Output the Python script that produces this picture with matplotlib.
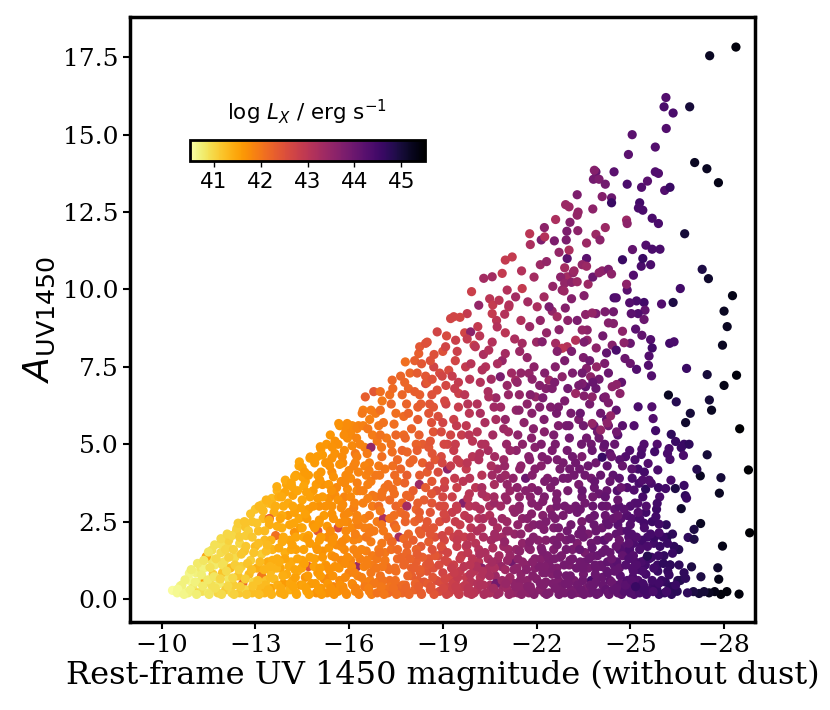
import numpy as np
import matplotlib
matplotlib.use("Agg")
import matplotlib.pyplot as plt
from matplotlib.ticker import FormatStrFormatter

# (rest-frame UV 1450 mag, A_UV1450, log Lx), by region
faint_end = [
    (-10.35, 0.28, 40.55), (-10.5, 0.2, 40.6), (-10.6, 0.42, 40.65), (-10.7, 0.25, 40.6), (-10.65, 0.45, 40.7),
    (-10.85, 0.2, 40.7), (-10.9, 0.6, 40.6), (-11.0, 0.35, 40.8), (-11.1, 0.85, 40.7), (-11.15, 0.2, 41.0),
    (-11.2, 0.55, 40.75), (-10.89, 0.83, 40.65), (-11.27, 0.99, 40.8),
    (-11.3, 0.25, 40.9), (-11.35, 1.0, 40.7), (-11.4, 0.6, 41.6), (-11.5, 0.2, 40.8), (-11.55, 1.3, 40.85),
    (-11.6, 0.45, 40.9), (-11.65, 0.8, 41.1), (-11.7, 1.1, 40.8), (-11.43, 1.37, 41.5), (-11.61, 1.58, 40.9),
    (-11.8, 0.2, 41.0), (-11.85, 0.5, 40.8), (-11.9, 1.5, 40.95), (-11.95, 0.85, 41.2), (-12.0, 1.2, 40.9),
    (-12.05, 0.3, 41.1), (-12.1, 1.75, 41.0), (-12.15, 0.65, 40.85), (-12.2, 1.0, 41.3), (-12.25, 0.2, 41.0),
    (-11.88, 1.78, 40.9), (-12.15, 1.9, 41.05),
    (-12.3, 0.45, 41.1), (-12.35, 1.35, 40.95), (-12.4, 2.2, 41.1), (-12.45, 0.75, 41.2), (-12.5, 1.8, 41.0),
    (-12.5, 0.2, 41.15), (-12.55, 1.05, 41.1), (-12.6, 0.5, 42.2), (-12.65, 1.55, 41.2), (-12.7, 0.3, 41.0),
    (-12.7, 2.05, 41.1), (-12.41, 2.28, 41.05), (-12.68, 2.33, 41.2),
    (-12.8, 0.8, 41.3), (-12.85, 1.25, 41.1), (-12.9, 0.2, 41.25), (-12.9, 2.5, 41.2), (-12.95, 0.55, 41.0),
    (-13.0, 1.7, 41.3), (-13.0, 2.9, 41.2), (-13.05, 1.0, 41.4), (-13.1, 2.2, 41.25), (-13.15, 0.35, 41.3),
    (-13.2, 1.45, 41.1), (-13.2, 0.75, 42.0), (-13.25, 2.6, 41.3), (-13.21, 3.04, 41.2),
]

faint_fill = [
    (-10.52, 0.32, 40.6), (-10.72, 0.15, 40.65), (-10.75, 0.62, 40.7), (-10.92, 0.3, 40.7), (-10.95, 0.95, 40.75),
    (-11.12, 0.15, 40.75), (-11.08, 0.55, 40.7), (-11.15, 1.15, 40.8), (-11.32, 0.42, 40.8), (-11.28, 0.78, 40.75),
    (-11.35, 1.25, 40.85), (-11.52, 0.15, 40.85), (-11.48, 0.62, 40.8), (-11.55, 1.02, 40.9), (-11.5, 1.52, 40.85),
    (-11.72, 0.35, 40.9), (-11.68, 0.72, 40.85), (-11.75, 1.3, 40.95), (-11.7, 1.75, 40.9), (-11.92, 0.15, 40.95),
    (-11.88, 0.65, 41.0), (-11.95, 1.1, 40.9), (-11.9, 1.95, 40.95), (-12.12, 0.42, 41.0), (-12.08, 0.9, 40.95),
    (-12.15, 1.35, 41.05), (-12.1, 2.1, 41.0), (-12.05, 1.6, 41.0), (-12.32, 0.15, 41.05), (-12.28, 0.68, 41.0),
    (-12.35, 1.1, 41.1), (-12.3, 1.6, 41.05), (-12.25, 2.05, 41.0), (-12.52, 0.4, 41.1), (-12.48, 0.95, 41.05),
    (-12.55, 1.45, 41.15), (-12.5, 2.0, 41.1), (-12.45, 2.45, 41.1), (-12.72, 0.15, 41.15), (-12.68, 0.65, 41.1),
    (-12.75, 1.15, 41.2), (-12.7, 1.7, 41.15), (-12.65, 2.5, 41.2), (-12.78, 2.2, 41.1), (-12.92, 0.42, 41.2),
    (-12.88, 0.95, 41.25), (-12.95, 1.5, 41.2), (-12.9, 2.0, 41.15), (-12.85, 2.75, 41.2),
]

mid_faint = [
    (-13.3, 0.2, 41.35), (-13.3, 1.9, 41.3), (-13.35, 0.6, 41.2), (-13.4, 1.2, 41.45), (-13.4, 3.1, 41.3),
    (-13.45, 2.4, 41.4), (-13.5, 0.9, 41.3), (-13.5, 0.35, 41.5), (-13.55, 1.6, 41.35), (-13.6, 2.8, 41.4),
    (-13.6, 0.65, 41.3), (-13.65, 2.05, 42.1), (-13.7, 1.3, 41.4), (-13.7, 3.5, 41.35), (-13.53, 3.25, 41.3),
    (-13.69, 3.63, 41.4),
    (-13.8, 0.2, 41.45), (-13.8, 1.0, 41.5), (-13.85, 2.3, 41.4), (-13.9, 0.5, 41.6), (-13.9, 3.0, 41.45),
    (-13.95, 1.5, 41.4), (-14.0, 3.7, 41.5), (-14.0, 0.8, 41.45), (-14.05, 2.7, 41.6), (-14.1, 0.3, 41.4),
    (-14.1, 1.9, 41.5), (-14.15, 1.2, 41.45), (-14.2, 3.35, 41.55), (-14.2, 0.6, 41.5), (-14.25, 2.15, 41.7),
    (-13.96, 3.84, 41.45), (-14.17, 3.63, 41.5),
    (-14.3, 0.2, 41.5), (-14.3, 1.6, 41.55), (-14.35, 0.9, 41.45), (-14.4, 2.6, 41.5), (-14.4, 4.3, 41.5),
    (-14.45, 0.45, 41.6), (-14.5, 3.2, 41.5), (-14.5, 1.25, 41.55), (-14.55, 2.0, 41.5), (-14.6, 0.7, 41.7),
    (-14.6, 3.8, 41.55), (-14.65, 0.25, 41.5), (-14.7, 2.9, 41.6), (-14.7, 1.05, 42.5), (-14.75, 1.8, 41.6),
    (-14.75, 4.55, 41.5), (-14.45, 2.3, 41.6), (-14.41, 4.43, 41.5), (-14.5, 3.95, 41.55),
    (-14.8, 0.5, 41.6), (-14.85, 2.4, 41.65), (-14.85, 3.5, 41.6), (-14.9, 1.3, 41.55), (-14.95, 0.2, 41.7),
    (-15.0, 4.0, 41.6), (-15.0, 0.85, 41.65), (-15.05, 1.9, 41.6), (-15.05, 3.0, 41.7), (-15.1, 4.85, 41.6),
    (-15.1, 0.35, 41.65), (-15.15, 1.55, 41.7), (-15.2, 2.7, 41.6), (-15.2, 0.65, 41.8), (-15.25, 4.4, 41.65),
    (-15.25, 1.1, 41.6), (-15.0, 2.2, 42.4), (-15.15, 3.7, 41.7), (-14.76, 4.59, 41.6), (-15.08, 4.92, 41.65),
    (-15.3, 0.2, 41.7), (-15.3, 2.0, 41.75), (-15.35, 3.25, 41.7), (-15.4, 0.75, 41.8), (-15.4, 5.3, 41.65),
    (-15.45, 1.4, 41.7), (-15.45, 4.1, 41.75), (-15.5, 2.6, 41.7), (-15.5, 0.4, 41.85), (-15.55, 1.05, 41.7),
    (-15.55, 4.7, 41.7), (-15.6, 1.75, 41.75), (-15.6, 3.6, 41.8), (-15.65, 0.25, 41.7), (-15.65, 2.3, 42.6),
    (-15.7, 0.6, 41.75), (-15.7, 5.6, 41.7), (-15.75, 2.95, 41.75), (-15.75, 1.25, 41.8), (-15.45, 3.0, 41.7),
    (-15.67, 5.67, 41.7),
    (-15.8, 0.4, 41.8), (-15.8, 4.4, 41.75), (-15.85, 1.6, 41.8), (-15.85, 3.3, 41.85), (-15.9, 0.2, 41.75),
    (-15.9, 2.2, 41.8), (-15.95, 5.2, 41.75), (-16.0, 0.85, 41.9), (-16.0, 2.8, 41.8), (-16.05, 3.9, 41.75),
    (-16.05, 1.25, 41.85), (-16.1, 0.5, 41.8), (-16.1, 5.6, 41.8), (-16.15, 1.9, 41.85), (-16.2, 4.7, 42.0),
    (-16.2, 0.25, 41.8), (-16.25, 3.5, 41.8), (-16.25, 1.05, 43.4), (-15.95, 2.5, 41.8), (-16.15, 2.95, 41.9),
    (-16.0, 4.15, 41.8), (-15.94, 5.67, 41.75), (-16.26, 5.51, 41.85),
]

mid_faint_fill = [
    (-13.12, 0.15, 41.25), (-13.08, 0.6, 41.2), (-13.15, 1.2, 41.3), (-13.1, 1.8, 41.25), (-13.05, 2.45, 41.2),
    (-13.12, 3.0, 41.3), (-13.32, 0.45, 41.3), (-13.28, 0.95, 41.35), (-13.35, 1.55, 41.25), (-13.3, 2.2, 41.3),
    (-13.25, 2.85, 41.3), (-13.35, 3.2, 41.35), (-13.52, 0.15, 41.35), (-13.48, 0.7, 41.3), (-13.55, 1.25, 41.4),
    (-13.5, 1.9, 41.35), (-13.45, 2.6, 42.3), (-13.55, 3.05, 41.35), (-13.72, 0.45, 41.4), (-13.68, 1.0, 41.35),
    (-13.75, 1.65, 41.45), (-13.7, 2.35, 41.4), (-13.65, 3.0, 41.4), (-13.75, 3.3, 41.4), (-13.92, 0.15, 41.45),
    (-13.88, 0.75, 41.4), (-13.95, 1.3, 41.5), (-13.9, 2.0, 41.45), (-13.85, 2.7, 41.45), (-13.95, 3.45, 41.5),
    (-14.12, 0.5, 41.48), (-14.08, 1.05, 41.45), (-14.15, 1.6, 41.5), (-14.1, 2.4, 41.5), (-14.05, 3.1, 41.45),
    (-14.15, 3.75, 41.5), (-14.32, 0.15, 41.5), (-14.28, 0.7, 41.55), (-14.35, 1.3, 41.5), (-14.3, 2.0, 41.5),
    (-14.25, 2.8, 41.55), (-14.35, 3.5, 41.5), (-14.3, 4.0, 41.55), (-14.52, 0.45, 41.52), (-14.48, 1.0, 41.5),
    (-14.55, 1.6, 41.55), (-14.5, 2.3, 41.5), (-14.45, 2.95, 41.55), (-14.55, 3.65, 41.5), (-14.5, 4.25, 41.55),
    (-14.72, 0.15, 41.55), (-14.68, 0.75, 41.6), (-14.75, 1.35, 41.55), (-14.7, 2.05, 41.55), (-14.65, 2.6, 41.6),
    (-14.75, 3.3, 41.55), (-14.7, 4.0, 41.6), (-14.92, 0.5, 41.6), (-14.88, 1.05, 41.55), (-14.95, 1.7, 41.6),
    (-14.9, 2.3, 41.6), (-14.85, 3.0, 41.65), (-14.95, 3.7, 41.6), (-14.9, 4.4, 41.6), (-15.12, 0.15, 41.62),
    (-15.08, 0.75, 41.6), (-15.15, 1.35, 41.65), (-15.1, 2.0, 41.6), (-15.05, 2.55, 41.65), (-15.15, 3.3, 41.6),
    (-15.1, 4.1, 41.65), (-15.15, 4.65, 41.6), (-15.32, 0.5, 41.65), (-15.28, 1.05, 41.7), (-15.35, 1.65, 41.65),
    (-15.3, 2.35, 41.65), (-15.25, 3.0, 41.7), (-15.35, 3.7, 41.65), (-15.3, 4.4, 41.7), (-15.28, 5.0, 41.65),
    (-15.52, 0.15, 41.7), (-15.48, 0.75, 41.7), (-15.55, 1.35, 41.75), (-15.5, 2.0, 41.7), (-15.45, 2.75, 41.7),
    (-15.55, 3.35, 41.75), (-15.5, 3.95, 41.7), (-15.45, 4.55, 41.7), (-15.55, 5.1, 41.7), (-15.72, 0.45, 41.72),
    (-15.68, 1.0, 41.7), (-15.75, 1.7, 41.75), (-15.7, 2.45, 41.72), (-15.65, 3.2, 41.7), (-15.75, 3.8, 41.75),
    (-15.7, 4.35, 41.7), (-15.65, 5.0, 41.72), (-15.92, 0.15, 41.75), (-15.88, 0.7, 41.8), (-15.95, 1.35, 41.75),
    (-15.9, 1.95, 41.75), (-15.85, 2.7, 41.8), (-15.95, 3.55, 41.75), (-15.9, 4.0, 41.8), (-15.85, 4.8, 41.75),
    (-15.9, 5.45, 41.75), (-16.12, 0.45, 41.8), (-16.08, 1.05, 41.8), (-16.15, 1.6, 41.85), (-16.1, 2.3, 41.8),
    (-16.05, 3.3, 41.8), (-16.15, 4.3, 41.85), (-16.1, 4.95, 41.8), (-16.05, 5.35, 41.8), (-16.32, 0.15, 41.85),
    (-16.28, 0.75, 41.85), (-16.35, 1.3, 41.9), (-16.3, 1.95, 41.85), (-16.25, 2.7, 41.85), (-16.35, 3.5, 41.9),
    (-16.3, 4.1, 41.85), (-16.25, 4.6, 41.9), (-16.3, 5.6, 41.85), (-16.52, 0.55, 41.88), (-16.48, 1.05, 41.85),
    (-16.55, 1.55, 41.9), (-16.5, 2.6, 41.88), (-16.45, 3.5, 41.9), (-16.55, 4.0, 41.88), (-16.5, 4.9, 41.9),
    (-16.45, 5.6, 41.9), (-16.72, 0.15, 41.92), (-16.68, 0.6, 41.9), (-16.75, 1.1, 41.95), (-16.7, 1.85, 41.92),
    (-16.65, 2.3, 41.9), (-16.75, 3.0, 41.95), (-16.7, 3.8, 41.92), (-16.65, 4.4, 41.9), (-16.75, 5.3, 41.95),
    (-16.7, 6.1, 41.95), (-16.92, 0.55, 41.95), (-16.88, 1.0, 42.0), (-16.95, 1.6, 41.95), (-16.9, 2.5, 41.95),
    (-16.85, 3.3, 42.0), (-16.95, 4.3, 41.95), (-16.9, 5.1, 42.0), (-16.85, 6.0, 41.95),
]

mid = [
    (-16.3, 0.2, 41.85), (-16.3, 2.4, 41.9), (-16.35, 5.0, 41.85), (-16.4, 0.7, 41.9), (-16.4, 1.6, 41.85),
    (-16.45, 3.1, 41.9), (-16.45, 6.1, 41.9), (-16.5, 0.4, 41.95), (-16.5, 4.3, 41.85), (-16.55, 1.1, 41.9),
    (-16.55, 2.0, 42.0), (-16.6, 3.7, 41.9), (-16.6, 5.5, 42.0), (-16.65, 0.25, 41.9), (-16.65, 2.7, 41.95),
    (-16.7, 0.85, 42.0), (-16.7, 4.9, 43.5), (-16.75, 1.4, 41.95), (-16.75, 3.35, 42.0), (-16.5, 2.3, 41.9),
    (-16.42, 6.0, 42.0), (-16.52, 6.53, 42.3), (-16.79, 6.7, 42.4),
    (-16.8, 0.5, 42.0), (-16.8, 2.2, 41.95), (-16.85, 4.0, 42.0), (-16.9, 0.2, 42.05), (-16.9, 1.3, 42.0),
    (-16.95, 3.0, 42.1), (-16.95, 5.6, 42.0), (-17.0, 0.75, 42.05), (-17.0, 6.7, 42.1), (-17.05, 1.8, 42.0),
    (-17.05, 4.6, 42.1), (-17.1, 0.35, 42.0), (-17.1, 2.6, 43.2), (-17.15, 3.6, 42.05), (-17.2, 1.05, 42.1),
    (-17.2, 5.2, 42.0), (-17.25, 0.2, 42.1), (-17.25, 2.0, 42.05), (-17.0, 6.1, 42.1), (-17.15, 1.5, 42.0),
    (-17.3, 0.6, 42.1), (-17.3, 3.2, 42.15), (-17.35, 1.6, 42.1), (-17.35, 6.3, 42.2), (-17.4, 0.25, 42.15),
    (-17.4, 4.3, 42.1), (-17.45, 2.4, 42.2), (-17.5, 0.9, 42.1), (-17.5, 5.3, 42.2), (-17.55, 1.3, 42.15),
    (-17.55, 3.8, 42.1), (-17.6, 0.4, 42.2), (-17.6, 2.0, 43.3), (-17.65, 7.2, 42.2), (-17.65, 2.8, 42.15),
    (-17.7, 0.2, 42.2), (-17.7, 4.8, 42.25), (-17.75, 1.1, 42.2), (-17.75, 5.9, 42.15), (-17.5, 3.0, 42.2),
    (-17.38, 7.07, 42.2),
    (-17.8, 0.45, 42.2), (-17.8, 2.5, 42.25), (-17.85, 1.5, 42.2), (-17.85, 4.0, 42.3), (-17.9, 0.2, 42.25),
    (-17.9, 6.8, 42.2), (-17.95, 3.3, 42.25), (-18.0, 0.75, 42.3), (-18.0, 5.5, 42.25), (-18.05, 1.9, 42.3),
    (-18.05, 4.5, 42.2), (-18.1, 0.3, 42.25), (-18.1, 7.7, 42.3), (-18.15, 1.2, 42.3), (-18.15, 2.9, 42.25),
    (-18.2, 6.2, 42.3), (-18.2, 0.6, 42.35), (-18.25, 2.2, 42.3), (-18.25, 3.7, 43.4), (-18.0, 1.0, 42.25),
    (-17.8, 7.66, 42.1), (-18.23, 7.93, 42.3),
    (-18.3, 0.2, 42.35), (-18.3, 1.7, 42.4), (-18.35, 5.0, 42.35), (-18.4, 0.55, 42.4), (-18.4, 3.2, 42.35),
    (-18.45, 7.2, 42.4), (-18.45, 2.3, 42.4), (-18.5, 0.9, 42.45), (-18.5, 4.1, 42.35), (-18.55, 1.3, 42.4),
    (-18.55, 6.0, 42.45), (-18.6, 0.3, 42.4), (-18.6, 2.8, 42.45), (-18.65, 3.8, 42.4), (-18.7, 1.0, 42.5),
    (-18.7, 5.4, 42.45), (-18.75, 0.2, 42.45), (-18.75, 2.0, 42.5), (-18.5, 8.3, 42.5), (-18.65, 6.6, 42.5),
    (-18.26, 8.15, 42.4), (-18.45, 8.26, 42.5), (-18.82, 8.63, 42.7), (-18.45, 6.96, 42.6), (-18.71, 7.5, 42.7),
    (-18.8, 0.6, 42.55), (-18.8, 3.5, 42.6), (-18.85, 1.4, 42.55), (-18.85, 5.9, 42.55), (-18.9, 0.25, 42.6),
    (-18.9, 2.5, 42.55), (-18.95, 4.6, 42.6), (-19.0, 0.85, 42.7), (-19.0, 8.0, 42.5), (-19.05, 1.9, 42.65),
    (-19.05, 3.0, 42.6), (-19.1, 0.4, 42.7), (-19.1, 6.9, 42.65), (-19.15, 1.2, 42.65), (-19.15, 4.2, 43.6),
    (-19.2, 0.2, 42.7), (-19.2, 2.2, 42.65), (-19.25, 5.3, 42.7), (-19.25, 0.7, 42.7), (-19.0, 1.6, 42.65),
    (-19.25, 9.06, 42.7), (-19.35, 9.12, 42.7), (-19.09, 8.15, 42.7), (-19.19, 7.39, 42.6), (-18.82, 6.75, 42.5),
    (-19.3, 0.3, 42.8), (-19.3, 2.8, 42.85), (-19.35, 1.1, 42.8), (-19.35, 4.8, 42.85), (-19.4, 0.55, 42.9),
    (-19.4, 7.7, 42.7), (-19.45, 1.7, 42.85), (-19.45, 3.6, 42.8), (-19.5, 0.2, 42.85), (-19.5, 6.2, 42.85),
    (-19.55, 2.4, 42.85), (-19.55, 0.9, 42.9), (-19.6, 5.3, 42.85), (-19.6, 1.4, 42.9), (-19.65, 3.1, 43.7),
    (-19.65, 0.4, 42.9), (-19.7, 8.6, 42.7), (-19.7, 2.0, 42.85), (-19.75, 0.7, 42.9), (-19.75, 4.2, 42.9),
    (-19.41, 8.36, 42.8), (-19.51, 6.64, 42.8), (-19.73, 7.5, 42.9), (-19.78, 9.22, 42.9),
    (-19.8, 0.2, 43.0), (-19.8, 1.5, 42.95), (-19.85, 3.0, 43.05), (-19.85, 6.0, 43.0), (-19.9, 0.55, 43.05),
    (-19.9, 2.3, 43.0), (-19.95, 4.6, 43.05), (-20.0, 0.9, 43.05), (-20.0, 8.2, 42.8), (-20.05, 1.8, 43.05),
    (-20.05, 3.6, 43.0), (-20.1, 0.3, 43.1), (-20.1, 5.4, 43.05), (-20.15, 1.2, 43.05), (-20.15, 2.6, 43.1),
    (-20.2, 0.7, 43.05), (-20.2, 7.0, 43.1), (-20.25, 4.0, 43.05), (-20.25, 1.0, 43.7), (-20.0, 0.2, 43.05),
    (-19.92, 9.93, 42.8), (-19.89, 8.63, 43.6), (-20.15, 9.49, 43.5), (-20.04, 8.15, 43.0),
]

mid_fill = [
    (-17.12, 0.15, 42.0), (-17.08, 0.6, 42.05), (-17.15, 1.25, 42.0), (-17.1, 2.2, 42.0), (-17.05, 3.3, 42.05),
    (-17.15, 4.2, 42.0), (-17.1, 5.7, 42.05), (-17.32, 0.4, 42.05), (-17.28, 0.95, 42.1), (-17.35, 1.85, 42.05),
    (-17.3, 2.6, 42.05), (-17.25, 3.7, 42.1), (-17.35, 5.0, 42.05), (-17.3, 6.6, 42.1), (-17.52, 0.15, 42.1),
    (-17.48, 0.6, 42.1), (-17.55, 1.6, 42.15), (-17.5, 2.3, 42.1), (-17.45, 3.4, 42.1), (-17.55, 4.5, 42.15),
    (-17.5, 6.0, 42.1), (-17.72, 0.45, 42.15), (-17.68, 1.35, 42.2), (-17.75, 1.95, 42.15), (-17.7, 3.1, 42.15),
    (-17.65, 4.2, 42.2), (-17.75, 5.3, 42.15), (-17.7, 6.6, 42.2), (-17.92, 0.15, 42.2), (-17.88, 0.75, 42.2),
    (-17.95, 1.3, 42.25), (-17.9, 2.1, 42.2), (-17.85, 3.0, 43.3), (-17.95, 4.4, 42.2), (-17.9, 6.0, 42.25),
    (-17.95, 7.3, 42.2), (-18.12, 0.5, 42.25), (-18.08, 1.0, 42.3), (-18.15, 1.6, 42.25), (-18.1, 2.5, 42.25),
    (-18.05, 3.5, 42.3), (-18.15, 5.0, 42.25), (-18.1, 6.7, 42.3), (-18.32, 0.15, 42.3), (-18.28, 0.85, 42.35),
    (-18.35, 1.35, 42.3), (-18.3, 2.1, 42.3), (-18.25, 2.8, 42.35), (-18.35, 4.4, 42.3), (-18.3, 6.3, 42.35),
    (-18.32, 7.6, 42.4), (-18.52, 0.5, 42.35), (-18.48, 1.1, 42.4), (-18.55, 1.85, 42.35), (-18.5, 2.5, 42.4),
    (-18.45, 3.6, 42.35), (-18.55, 4.9, 42.4), (-18.5, 7.0, 42.4), (-18.72, 0.15, 42.42), (-18.68, 0.7, 42.45),
    (-18.75, 1.4, 42.4), (-18.7, 2.3, 42.42), (-18.65, 3.1, 42.45), (-18.75, 4.5, 42.4), (-18.7, 6.2, 42.45),
    (-18.72, 7.9, 42.5), (-18.92, 0.55, 42.58), (-18.88, 1.1, 42.6), (-18.95, 1.7, 42.55), (-18.9, 3.0, 42.6),
    (-18.85, 4.1, 42.58), (-18.95, 5.4, 42.6), (-18.9, 7.3, 42.6), (-19.12, 0.15, 42.7), (-19.08, 0.65, 42.65),
    (-19.15, 1.5, 42.7), (-19.1, 2.6, 42.7), (-19.05, 3.6, 42.75), (-19.15, 5.0, 42.7), (-19.1, 6.3, 42.75),
    (-19.12, 8.5, 42.6), (-19.32, 0.5, 42.8), (-19.28, 1.0, 42.85), (-19.35, 2.0, 42.8), (-19.3, 3.3, 42.8),
    (-19.25, 4.3, 42.85), (-19.35, 5.8, 42.8), (-19.3, 7.2, 42.85), (-19.52, 0.15, 42.85), (-19.48, 0.7, 42.9),
    (-19.55, 1.3, 42.85), (-19.5, 2.1, 42.85), (-19.45, 2.9, 42.9), (-19.55, 4.4, 42.85), (-19.5, 7.0, 42.9),
    (-19.55, 9.1, 42.7), (-19.72, 0.45, 42.95), (-19.68, 1.05, 43.0), (-19.75, 1.7, 42.95), (-19.7, 2.7, 42.95),
    (-19.65, 3.8, 43.0), (-19.75, 5.6, 42.95), (-19.7, 6.6, 43.0), (-19.92, 0.15, 43.0), (-19.88, 0.8, 43.05),
    (-19.95, 1.3, 43.0), (-19.9, 2.0, 43.0), (-19.85, 3.4, 43.05), (-19.95, 5.1, 43.0), (-19.9, 7.6, 43.05),
    (-20.12, 0.5, 43.1), (-20.08, 1.05, 43.15), (-20.15, 1.6, 43.1), (-20.1, 2.2, 43.15), (-20.05, 3.0, 43.1),
    (-20.15, 4.5, 43.15), (-20.1, 6.3, 43.1), (-20.12, 8.8, 42.9), (-20.32, 0.15, 43.2), (-20.28, 0.8, 43.15),
    (-20.35, 1.5, 43.2), (-20.3, 2.6, 43.2), (-20.25, 3.6, 43.25), (-20.35, 5.7, 43.2), (-20.3, 7.9, 43.2),
    (-20.52, 0.45, 43.25), (-20.48, 1.0, 43.25), (-20.55, 1.9, 43.3), (-20.5, 3.0, 43.25), (-20.45, 4.8, 43.25),
    (-20.55, 7.1, 43.3), (-20.5, 9.7, 43.0), (-20.72, 0.15, 43.35), (-20.68, 0.75, 43.4), (-20.75, 1.25, 43.35),
    (-20.7, 2.0, 43.35), (-20.65, 3.1, 43.4), (-20.75, 4.2, 43.35), (-20.7, 6.5, 43.4), (-20.72, 9.0, 43.0),
    (-20.92, 0.4, 43.4), (-20.88, 1.05, 43.45), (-20.95, 1.7, 43.4), (-20.9, 2.6, 43.4), (-20.85, 3.9, 43.45),
    (-20.95, 5.5, 43.4), (-20.9, 7.7, 43.45),
]

mid_bright = [
    (-20.3, 0.45, 43.15), (-20.3, 2.0, 43.2), (-20.35, 5.0, 43.15), (-20.4, 0.2, 43.2), (-20.4, 3.3, 43.15),
    (-20.45, 1.3, 43.2), (-20.45, 6.7, 43.2), (-20.5, 0.75, 43.25), (-20.5, 2.7, 43.15), (-20.55, 4.3, 43.2),
    (-20.55, 0.3, 43.25), (-20.6, 1.65, 43.2), (-20.6, 9.5, 42.9), (-20.65, 3.7, 43.25), (-20.65, 1.0, 43.2),
    (-20.7, 5.8, 43.25), (-20.7, 0.5, 43.9), (-20.75, 2.3, 43.25), (-20.75, 7.6, 43.2), (-20.5, 0.2, 43.2),
    (-20.31, 10.36, 43.3), (-20.58, 10.41, 43.3), (-20.58, 9.22, 42.9), (-20.74, 8.79, 43.1), (-20.47, 8.04, 43.1),
    (-20.37, 7.5, 43.1), (-20.47, 6.53, 43.2),
    (-20.8, 0.2, 43.35), (-20.8, 1.4, 43.3), (-20.85, 3.0, 43.35), (-20.85, 6.2, 43.35), (-20.9, 0.6, 43.4),
    (-20.9, 2.0, 43.35), (-20.95, 4.5, 43.4), (-21.0, 0.95, 43.35), (-21.0, 8.6, 43.0), (-21.05, 2.5, 43.4),
    (-21.05, 0.35, 43.35), (-21.1, 1.6, 43.4), (-21.1, 5.4, 43.35), (-21.15, 3.5, 43.45), (-21.15, 0.7, 43.4),
    (-21.2, 1.2, 43.9), (-21.2, 7.3, 43.35), (-21.25, 0.2, 43.4), (-21.25, 2.9, 43.45), (-21.0, 4.0, 43.4),
    (-20.9, 10.52, 42.9), (-21.22, 11.05, 42.9), (-21.0, 10.95, 42.9), (-21.11, 9.44, 43.0), (-21.06, 9.98, 43.1),
    (-20.8, 9.65, 43.0), (-21.0, 7.93, 43.3), (-20.84, 7.18, 43.8),
    (-21.3, 0.5, 43.55), (-21.3, 2.1, 43.5), (-21.35, 4.8, 43.55), (-21.4, 0.2, 43.5), (-21.4, 1.3, 43.6),
    (-21.45, 3.3, 43.55), (-21.45, 6.6, 43.5), (-21.5, 0.8, 43.6), (-21.5, 9.0, 43.15), (-21.55, 1.8, 43.55),
    (-21.55, 2.6, 43.6), (-21.6, 0.35, 43.55), (-21.6, 5.7, 43.6), (-21.65, 1.1, 43.6), (-21.65, 3.9, 44.0),
    (-21.7, 0.6, 43.6), (-21.7, 7.8, 43.5), (-21.75, 2.3, 43.6), (-21.75, 0.2, 43.6), (-21.5, 4.3, 43.55),
    (-21.33, 9.76, 43.3), (-21.54, 10.03, 42.9), (-21.54, 8.26, 43.3), (-21.33, 7.07, 43.3), (-21.76, 7.29, 43.5),
    (-21.78, 11.8, 43.0), (-21.8, 11.45, 43.2), (-21.97, 6.53, 43.5),
    (-21.8, 0.4, 43.65), (-21.8, 1.6, 43.6), (-21.85, 3.6, 43.65), (-21.85, 6.0, 43.65), (-21.9, 0.2, 43.65),
    (-21.9, 2.4, 43.7), (-21.95, 1.0, 43.65), (-21.95, 4.9, 43.65), (-22.0, 0.65, 43.7), (-22.0, 8.3, 43.4),
    (-22.05, 1.9, 43.65), (-22.05, 3.0, 43.7), (-22.1, 0.3, 43.65), (-22.1, 6.9, 43.7), (-22.15, 1.3, 43.7),
    (-22.15, 4.3, 43.65), (-22.2, 0.85, 43.75), (-22.2, 2.7, 43.7), (-22.25, 0.2, 43.7), (-22.25, 5.4, 43.65),
    (-22.02, 9.44, 43.2), (-22.24, 9.76, 43.3), (-22.18, 8.31, 43.7), (-22.25, 12.0, 43.6), (-22.15, 11.6, 43.8),
    (-22.26, 11.7, 43.1),
    (-22.3, 0.55, 43.75), (-22.3, 1.9, 43.7), (-22.35, 3.9, 43.75), (-22.4, 0.2, 43.75), (-22.4, 1.2, 43.8),
    (-22.45, 2.9, 43.7), (-22.45, 6.2, 43.75), (-22.5, 0.8, 43.75), (-22.5, 4.8, 43.8), (-22.55, 1.6, 43.75),
    (-22.55, 2.3, 43.8), (-22.6, 0.35, 43.75), (-22.6, 7.5, 43.7), (-22.65, 1.0, 43.75), (-22.65, 3.4, 43.8),
    (-22.7, 0.6, 43.8), (-22.7, 5.6, 43.75), (-22.75, 2.0, 43.8), (-22.75, 0.2, 43.8), (-22.5, 9.3, 43.5),
    (-22.4, 9.44, 43.8), (-22.66, 9.12, 43.3), (-22.82, 9.98, 43.5), (-22.61, 8.26, 43.3), (-22.4, 7.07, 43.4),
    (-22.82, 7.18, 43.6), (-22.61, 12.26, 43.2), (-22.57, 11.57, 43.8),
    (-22.8, 0.4, 43.85), (-22.8, 1.4, 43.8), (-22.85, 2.7, 43.85), (-22.85, 4.4, 43.85), (-22.9, 0.2, 43.85),
    (-22.9, 6.4, 43.8), (-22.95, 1.9, 43.85), (-22.95, 0.75, 43.9), (-23.0, 3.5, 43.85), (-23.0, 9.0, 43.6),
    (-23.05, 1.1, 43.85), (-23.05, 5.2, 43.9), (-23.1, 0.3, 43.85), (-23.1, 2.4, 43.9), (-23.15, 1.6, 43.85),
    (-23.15, 7.3, 43.8), (-23.2, 0.6, 43.85), (-23.2, 4.0, 43.9), (-23.25, 0.2, 43.85), (-23.25, 3.0, 43.9),
    (-22.98, 10.41, 43.3), (-22.93, 12.74, 43.4), (-23.04, 12.67, 43.4), (-22.97, 11.88, 43.8), (-22.95, 11.6, 43.8),
    (-22.98, 11.0, 44.2), (-22.9, 10.7, 43.3), (-22.77, 10.4, 43.6), (-22.9, 10.2, 43.5), (-22.88, 9.95, 43.4),
    (-22.98, 8.15, 43.1), (-22.82, 8.1, 43.0), (-23.25, 8.36, 43.1), (-23.25, 6.64, 43.4),
    (-23.3, 0.5, 43.85), (-23.3, 1.8, 43.8), (-23.35, 3.7, 43.85), (-23.35, 5.8, 43.8), (-23.4, 0.2, 43.85),
    (-23.4, 1.2, 43.9), (-23.45, 2.5, 43.85), (-23.45, 4.6, 43.8), (-23.5, 0.8, 43.9), (-23.5, 7.8, 43.8),
    (-23.55, 1.5, 43.85), (-23.55, 3.1, 43.9), (-23.6, 0.35, 43.85), (-23.6, 5.2, 43.9), (-23.65, 2.1, 43.85),
    (-23.65, 1.0, 43.9), (-23.7, 0.2, 43.9), (-23.7, 6.3, 43.85), (-23.75, 3.9, 43.9), (-23.75, 0.6, 44.4),
    (-23.3, 13.06, 43.8), (-23.33, 12.5, 43.5), (-23.3, 12.4, 43.5), (-23.07, 12.17, 43.7), (-23.04, 11.27, 43.2),
    (-23.6, 11.5, 43.4), (-23.6, 11.0, 44.2), (-23.46, 10.8, 43.5), (-23.6, 10.75, 43.4), (-23.17, 10.54, 43.5),
    (-23.2, 10.6, 43.4), (-23.65, 10.17, 43.4), (-23.12, 10.23, 43.6), (-23.3, 10.25, 43.4), (-23.57, 9.19, 43.6),
    (-23.62, 8.69, 43.6), (-23.46, 8.69, 43.5), (-23.62, 8.36, 43.5), (-23.6, 7.45, 43.7), (-23.73, 7.18, 43.6),
    (-23.57, 6.86, 44.1), (-23.52, 6.56, 43.7), (-23.46, 6.96, 43.8),
    (-23.8, 0.25, 44.0), (-23.8, 1.4, 43.95), (-23.85, 2.7, 44.0), (-23.9, 0.55, 44.0), (-23.9, 4.4, 43.95),
    (-23.95, 1.9, 44.0), (-24.0, 0.2, 44.05), (-24.0, 3.4, 44.0), (-24.05, 1.1, 44.0), (-24.05, 6.0, 43.95),
    (-24.1, 0.7, 44.05), (-24.1, 2.3, 44.0), (-24.15, 4.9, 44.0), (-24.2, 0.35, 44.0), (-24.2, 1.6, 44.05),
    (-24.25, 3.0, 44.0), (-24.25, 0.9, 44.05), (-24.0, 7.1, 43.9),
]

bright_fill = [
    (-21.12, 0.15, 43.45), (-21.08, 0.6, 43.4), (-21.15, 1.4, 43.45), (-21.1, 2.2, 43.45), (-21.05, 3.2, 43.5),
    (-21.15, 4.8, 43.45), (-21.1, 6.6, 43.45), (-21.12, 9.5, 43.1), (-21.32, 0.4, 43.55), (-21.28, 0.95, 43.55),
    (-21.35, 1.6, 43.5), (-21.3, 2.8, 43.55), (-21.25, 3.9, 43.55), (-21.35, 6.1, 43.5), (-21.3, 8.4, 43.2),
    (-21.52, 0.15, 43.6), (-21.48, 0.6, 43.6), (-21.55, 1.2, 43.6), (-21.5, 2.1, 43.6), (-21.45, 3.0, 43.6),
    (-21.55, 5.0, 43.6), (-21.5, 7.3, 43.5), (-21.52, 10.6, 43.1), (-21.72, 0.4, 43.65), (-21.68, 0.95, 43.65),
    (-21.75, 1.65, 43.65), (-21.7, 2.6, 43.65), (-21.65, 3.5, 43.65), (-21.75, 4.6, 43.65), (-21.7, 6.3, 43.6),
    (-21.72, 9.6, 43.3), (-21.92, 0.15, 43.7), (-21.88, 0.75, 43.7), (-21.95, 1.3, 43.7), (-21.9, 2.0, 43.7),
    (-21.85, 3.1, 43.7), (-21.95, 4.2, 43.7), (-21.9, 5.5, 43.65), (-21.92, 7.5, 43.6), (-21.92, 10.4, 43.3),
    (-22.12, 0.5, 43.75), (-22.08, 1.05, 43.75), (-22.15, 1.65, 43.75), (-22.1, 2.4, 43.75), (-22.05, 3.5, 43.75),
    (-22.15, 5.0, 43.75), (-22.1, 6.2, 43.7), (-22.12, 9.0, 43.5), (-22.12, 10.8, 43.4), (-22.32, 0.15, 43.78),
    (-22.28, 0.85, 43.78), (-22.35, 1.4, 43.78), (-22.3, 2.5, 43.78), (-22.25, 3.3, 43.78), (-22.35, 4.5, 43.78),
    (-22.3, 6.8, 43.7), (-22.32, 8.6, 43.5), (-22.32, 10.9, 43.5), (-22.52, 0.5, 43.8), (-22.48, 1.0, 43.8),
    (-22.55, 1.9, 43.8), (-22.5, 2.7, 43.8), (-22.45, 3.6, 43.8), (-22.55, 5.3, 43.8), (-22.5, 6.8, 43.75),
    (-22.52, 10.1, 43.5), (-22.72, 0.15, 43.85), (-22.68, 0.8, 43.85), (-22.75, 1.35, 43.85), (-22.7, 2.3, 43.85),
    (-22.65, 3.0, 43.85), (-22.75, 4.2, 43.85), (-22.7, 6.2, 43.8), (-22.72, 8.7, 43.6), (-22.72, 11.2, 43.5),
    (-22.92, 0.5, 43.88), (-22.88, 1.1, 43.88), (-22.95, 1.6, 43.88), (-22.9, 3.0, 43.88), (-22.85, 3.9, 43.88),
    (-22.95, 5.6, 43.85), (-22.9, 7.7, 43.8), (-22.92, 9.4, 43.7), (-23.12, 0.15, 43.9), (-23.08, 0.75, 43.9),
    (-23.15, 1.3, 43.9), (-23.1, 1.95, 43.9), (-23.05, 2.9, 43.9), (-23.15, 4.6, 43.9), (-23.1, 6.0, 43.85),
    (-23.12, 8.0, 43.8), (-23.12, 9.7, 43.7), (-23.32, 0.45, 43.92), (-23.28, 1.0, 43.92), (-23.35, 2.1, 43.92),
    (-23.3, 2.8, 43.92), (-23.25, 4.4, 43.92), (-23.35, 6.9, 43.85), (-23.3, 9.0, 43.8), (-23.32, 11.9, 43.6),
    (-23.52, 0.15, 43.95), (-23.48, 0.6, 43.95), (-23.55, 1.2, 43.95), (-23.5, 2.0, 43.95), (-23.45, 3.3, 43.95),
    (-23.55, 4.0, 43.95), (-23.5, 5.6, 43.9), (-23.52, 8.3, 43.8), (-23.52, 9.8, 43.7), (-23.72, 0.45, 43.98),
    (-23.68, 1.3, 43.98), (-23.75, 1.8, 43.98), (-23.7, 2.6, 43.98), (-23.65, 4.3, 43.98), (-23.75, 5.0, 43.95),
    (-23.7, 7.7, 43.9), (-23.92, 0.15, 44.0), (-23.88, 0.8, 44.0), (-23.95, 1.4, 44.0), (-23.9, 2.2, 44.0),
    (-23.85, 3.6, 44.0), (-23.95, 5.4, 43.95), (-23.9, 6.8, 44.0), (-24.12, 0.45, 44.05), (-24.08, 1.05, 44.05),
    (-24.15, 1.9, 44.05), (-24.1, 3.0, 44.05), (-24.05, 4.0, 44.05), (-24.15, 6.5, 44.0), (-24.12, 8.5, 43.9),
    (-24.32, 0.15, 44.05), (-24.28, 0.85, 44.1), (-24.35, 1.5, 44.05), (-24.3, 2.4, 44.1), (-24.25, 3.5, 44.05),
    (-24.35, 4.7, 44.1), (-24.3, 7.3, 44.0), (-24.52, 0.45, 44.12), (-24.48, 1.1, 44.15), (-24.55, 2.1, 44.1),
    (-24.5, 2.9, 44.12), (-24.45, 4.0, 44.15), (-24.55, 6.1, 44.1), (-24.72, 0.15, 44.18), (-24.68, 0.75, 44.2),
    (-24.75, 1.7, 44.18), (-24.7, 2.6, 44.2), (-24.65, 3.9, 44.18), (-24.75, 5.6, 44.2), (-24.72, 7.0, 44.1),
    (-24.92, 0.45, 44.25), (-24.88, 1.5, 44.28), (-24.95, 2.0, 44.25), (-24.9, 2.7, 44.25), (-24.85, 4.6, 44.3),
    (-25.12, 0.15, 44.32), (-25.08, 0.7, 44.35), (-25.15, 1.2, 44.32), (-25.1, 1.8, 44.35), (-25.05, 2.6, 44.3),
    (-25.15, 4.5, 44.35), (-25.12, 5.6, 44.3), (-25.32, 0.45, 44.4), (-25.28, 0.95, 44.42), (-25.35, 1.7, 44.4),
    (-25.3, 2.6, 44.4), (-25.25, 4.2, 44.45), (-25.52, 0.15, 44.45), (-25.48, 1.1, 44.5), (-25.55, 2.0, 44.45),
    (-25.5, 2.8, 44.5), (-25.45, 4.1, 44.45), (-25.72, 0.45, 44.52), (-25.68, 1.35, 44.55), (-25.75, 1.8, 44.5),
    (-25.7, 2.5, 44.55), (-25.92, 0.15, 44.58), (-25.88, 0.9, 44.6), (-25.95, 1.7, 44.6), (-25.9, 3.6, 44.55),
    (-26.12, 0.55, 44.65), (-26.08, 1.4, 44.65), (-26.15, 2.4, 44.7), (-26.32, 0.15, 44.7), (-26.28, 1.1, 44.72),
    (-26.35, 2.1, 44.7), (-26.52, 0.6, 44.78), (-26.55, 1.6, 44.8),
]

extra_fill = [
    (-13.42, 0.3, 41.35), (-13.47, 1.05, 41.35), (-13.38, 1.75, 41.3), (-13.44, 2.55, 41.4),
    (-13.82, 0.35, 41.45), (-13.77, 1.2, 41.4), (-13.86, 1.85, 41.45), (-13.8, 2.6, 41.5), (-13.84, 3.3, 41.45),
    (-14.22, 0.4, 41.5), (-14.27, 0.95, 41.5), (-14.18, 1.75, 41.55), (-14.24, 2.45, 41.5), (-14.2, 3.0, 41.5),
    (-14.26, 3.95, 41.5),
    (-14.62, 0.35, 41.55), (-14.57, 1.15, 41.55), (-14.66, 1.95, 41.6), (-14.6, 2.75, 41.55), (-14.64, 3.45, 41.55),
    (-14.58, 4.1, 41.6),
    (-15.02, 0.3, 41.6), (-15.07, 1.0, 41.6), (-14.98, 1.6, 41.65), (-15.04, 2.45, 41.6), (-15.0, 3.25, 41.6),
    (-15.06, 3.85, 41.65), (-14.98, 4.6, 41.6),
    (-15.42, 0.35, 41.7), (-15.37, 0.95, 41.7), (-15.46, 1.85, 41.7), (-15.4, 2.2, 41.75), (-15.44, 3.5, 41.7),
    (-15.38, 4.3, 41.7), (-15.46, 4.9, 41.7),
    (-15.82, 0.3, 41.75), (-15.87, 1.15, 41.75), (-15.78, 1.85, 41.8), (-15.84, 2.5, 41.75), (-15.8, 3.05, 41.75),
    (-15.86, 3.75, 41.8), (-15.78, 4.6, 41.75), (-15.84, 5.3, 41.75),
    (-16.22, 0.35, 41.85), (-16.17, 0.85, 41.85), (-16.26, 1.45, 41.85), (-16.2, 2.1, 41.9), (-16.24, 2.55, 41.85),
    (-16.18, 3.1, 41.85), (-16.26, 3.75, 41.9), (-16.2, 4.4, 41.85), (-16.24, 5.2, 41.85),
    (-16.62, 0.35, 41.9), (-16.57, 1.25, 41.9), (-16.66, 2.15, 41.95), (-16.6, 3.25, 41.9), (-16.64, 4.15, 41.9),
    (-16.58, 4.7, 41.95), (-16.66, 5.8, 41.9),
    (-17.02, 0.4, 42.0), (-17.07, 1.05, 42.0), (-16.98, 1.5, 42.05), (-17.04, 2.4, 42.0), (-17.0, 2.85, 42.0),
    (-17.06, 3.45, 42.05), (-16.98, 4.0, 42.0), (-17.04, 4.9, 42.0), (-17.0, 5.3, 42.05), (-17.06, 6.4, 42.0),
    (-17.42, 0.35, 42.1), (-17.47, 1.0, 42.1), (-17.38, 1.85, 42.15), (-17.44, 2.7, 42.1), (-17.4, 3.55, 42.1),
    (-17.46, 4.0, 42.15), (-17.38, 4.75, 42.1), (-17.44, 5.65, 42.1), (-17.4, 6.8, 42.15),
    (-17.82, 0.35, 42.2), (-17.77, 1.15, 42.2), (-17.86, 1.75, 42.25), (-17.8, 2.7, 42.2), (-17.84, 3.35, 42.2),
    (-17.78, 3.75, 42.25), (-17.86, 4.75, 42.2), (-17.8, 5.2, 42.2), (-17.84, 6.3, 42.25), (-17.78, 7.0, 42.2),
    (-18.22, 0.4, 42.3), (-18.27, 0.95, 42.3), (-18.18, 1.45, 42.35), (-18.24, 2.6, 42.3), (-18.2, 3.1, 42.3),
    (-18.26, 4.0, 42.35), (-18.18, 4.8, 42.3), (-18.24, 5.3, 42.3), (-18.2, 5.8, 42.35), (-18.26, 6.6, 42.3),
    (-18.18, 7.3, 42.35),
    (-18.62, 0.4, 42.45), (-18.57, 1.15, 42.45), (-18.66, 1.6, 42.5), (-18.6, 2.1, 42.45), (-18.64, 3.4, 42.45),
    (-18.58, 4.3, 42.5), (-18.66, 4.7, 42.45), (-18.6, 5.1, 42.45), (-18.64, 5.7, 42.5), (-18.58, 6.3, 42.45),
    (-18.66, 7.1, 42.5), (-18.6, 7.7, 42.5),
    (-19.02, 0.35, 42.65), (-19.07, 1.25, 42.65), (-18.98, 2.05, 42.7), (-19.04, 2.75, 42.65), (-19.0, 3.3, 42.65),
    (-19.06, 3.8, 42.7), (-18.98, 4.4, 42.65), (-19.04, 5.0, 42.65), (-19.0, 5.7, 42.7), (-19.06, 6.4, 42.65),
    (-18.98, 7.2, 42.7),
    (-19.42, 0.4, 42.85), (-19.37, 0.85, 42.85), (-19.46, 1.9, 42.9), (-19.4, 2.5, 42.85), (-19.44, 3.0, 42.85),
    (-19.38, 3.9, 42.9), (-19.46, 4.5, 42.85), (-19.4, 5.0, 42.85), (-19.44, 5.6, 42.9), (-19.38, 6.8, 42.85),
    (-19.46, 8.0, 42.8),
    (-19.82, 0.35, 43.0), (-19.87, 1.1, 43.0), (-19.78, 1.75, 43.05), (-19.84, 2.6, 43.0), (-19.8, 3.25, 43.0),
    (-19.86, 3.9, 43.05), (-19.78, 4.4, 43.0), (-19.84, 5.3, 43.0), (-19.8, 6.3, 43.05), (-19.86, 7.1, 43.0),
    (-19.78, 8.4, 42.9),
    (-20.22, 0.45, 43.15), (-20.27, 0.9, 43.15), (-20.18, 1.45, 43.2), (-20.24, 2.3, 43.15), (-20.2, 2.9, 43.15),
    (-20.26, 3.4, 43.2), (-20.18, 4.7, 43.15), (-20.24, 5.0, 43.15), (-20.2, 6.0, 43.2), (-20.26, 7.4, 43.15),
    (-20.18, 8.5, 43.0),
    (-20.62, 0.35, 43.3), (-20.57, 1.2, 43.3), (-20.66, 2.1, 43.35), (-20.6, 2.5, 43.3), (-20.64, 3.3, 43.3),
    (-20.58, 4.0, 43.35), (-20.66, 4.6, 43.3), (-20.6, 5.3, 43.3), (-20.64, 6.2, 43.35), (-20.58, 8.3, 43.1),
    (-21.02, 0.5, 43.45), (-21.07, 1.25, 43.45), (-20.98, 1.85, 43.5), (-21.04, 2.2, 43.45), (-21.0, 3.3, 43.45),
    (-21.06, 3.7, 43.5), (-20.98, 4.3, 43.45), (-21.04, 5.0, 43.45), (-21.0, 5.8, 43.5), (-21.06, 6.9, 43.45),
    (-20.98, 9.2, 43.1),
    (-21.42, 0.4, 43.55), (-21.37, 1.0, 43.55), (-21.46, 1.55, 43.6), (-21.4, 2.4, 43.55), (-21.44, 2.9, 43.55),
    (-21.38, 3.6, 43.6), (-21.46, 4.2, 43.55), (-21.4, 5.3, 43.55), (-21.44, 6.1, 43.6), (-21.38, 7.0, 43.5),
    (-21.46, 8.0, 43.4),
    (-21.82, 0.3, 43.65), (-21.87, 1.2, 43.65), (-21.78, 1.85, 43.7), (-21.84, 2.75, 43.65), (-21.8, 3.3, 43.65),
    (-21.86, 4.0, 43.7), (-21.78, 4.5, 43.65), (-21.84, 5.2, 43.65), (-21.8, 6.6, 43.7), (-21.86, 7.1, 43.6),
    (-21.78, 8.8, 43.4),
    (-22.22, 0.45, 43.75), (-22.27, 1.05, 43.75), (-22.18, 1.55, 43.8), (-22.24, 2.25, 43.75), (-22.2, 3.15, 43.75),
    (-22.26, 3.8, 43.8), (-22.18, 4.6, 43.75), (-22.24, 5.8, 43.75), (-22.2, 6.5, 43.8), (-22.26, 7.3, 43.7),
    (-22.62, 0.35, 43.82), (-22.57, 1.3, 43.82), (-22.66, 1.75, 43.85), (-22.6, 2.6, 43.82), (-22.64, 3.2, 43.82),
    (-22.58, 3.8, 43.85), (-22.66, 4.5, 43.82), (-22.6, 5.0, 43.82), (-22.64, 6.0, 43.85), (-22.58, 7.0, 43.8),
    (-22.66, 8.0, 43.7),
    (-23.02, 0.5, 43.88), (-23.07, 1.25, 43.88), (-22.98, 2.2, 43.9), (-23.04, 2.9, 43.88), (-23.0, 3.9, 43.88),
    (-23.06, 4.2, 43.9), (-22.98, 4.8, 43.88), (-23.04, 5.6, 43.88), (-23.0, 6.8, 43.9),
    (-23.42, 0.3, 43.95), (-23.47, 1.0, 43.95), (-23.38, 1.6, 44.0), (-23.44, 2.25, 43.95), (-23.4, 2.9, 43.95),
    (-23.46, 3.5, 44.0), (-23.38, 4.2, 43.95), (-23.44, 5.0, 43.95), (-23.4, 6.0, 44.0), (-23.46, 7.3, 43.9),
    (-23.82, 0.45, 44.0), (-23.87, 1.1, 44.0), (-23.78, 1.65, 44.05), (-23.84, 2.4, 44.0), (-23.8, 3.0, 44.0),
    (-23.86, 3.8, 44.05), (-23.78, 4.8, 44.0), (-23.84, 5.6, 44.0), (-23.8, 7.0, 44.05),
    (-24.22, 0.3, 44.1), (-24.27, 1.2, 44.1), (-24.18, 1.9, 44.15), (-24.24, 2.5, 44.1), (-24.2, 3.3, 44.1),
    (-24.26, 4.3, 44.15), (-24.18, 5.0, 44.1), (-24.24, 5.8, 44.1),
    (-24.62, 0.4, 44.2), (-24.57, 1.2, 44.2), (-24.66, 1.6, 44.25), (-24.6, 2.4, 44.2), (-24.64, 3.0, 44.2),
    (-24.58, 3.5, 44.25), (-24.66, 4.5, 44.2), (-24.6, 5.3, 44.2),
    (-25.02, 0.35, 44.3), (-25.07, 1.0, 44.3), (-24.98, 1.6, 44.35), (-25.04, 2.1, 44.3), (-25.0, 3.0, 44.3),
    (-25.06, 3.9, 44.35), (-24.98, 4.8, 44.3),
    (-25.42, 0.45, 44.45), (-25.47, 1.25, 44.45), (-25.38, 1.9, 44.5), (-25.44, 2.45, 44.45), (-25.4, 3.3, 44.45),
    (-25.82, 0.4, 44.55), (-25.87, 1.1, 44.55), (-25.78, 2.0, 44.6), (-25.84, 2.9, 44.55),
    (-26.22, 0.3, 44.7), (-26.27, 1.1, 44.7), (-26.18, 2.0, 44.75),
]

bright_low = [
    (-24.3, 0.2, 44.05), (-24.3, 2.0, 44.0), (-24.35, 0.6, 44.1), (-24.35, 3.8, 44.05), (-24.4, 1.3, 44.0),
    (-24.45, 0.3, 44.1), (-24.45, 2.6, 44.05), (-24.5, 0.9, 44.1), (-24.5, 5.0, 44.05), (-24.55, 1.7, 44.05),
    (-24.6, 0.2, 44.1), (-24.6, 3.2, 44.05), (-24.65, 1.0, 44.1), (-24.7, 0.5, 44.15), (-24.7, 2.2, 44.1),
    (-24.75, 4.3, 44.05), (-24.75, 1.4, 44.1),
    (-24.8, 0.25, 44.25), (-24.8, 2.9, 44.2), (-24.85, 1.1, 44.25), (-24.9, 0.6, 44.3), (-24.9, 3.6, 44.25),
    (-24.95, 1.8, 44.2), (-25.0, 0.2, 44.3), (-25.0, 2.4, 44.25), (-25.05, 4.2, 44.2), (-25.1, 0.9, 44.3),
    (-25.1, 1.4, 44.25), (-25.15, 0.35, 44.3), (-25.2, 2.0, 44.3), (-25.25, 0.6, 44.3), (-25.25, 2.8, 44.25),
    (-25.3, 0.2, 44.4), (-25.35, 1.2, 44.4), (-25.4, 0.5, 44.45), (-25.45, 2.3, 44.4), (-25.5, 0.8, 44.45),
    (-25.55, 1.7, 44.4), (-25.6, 0.25, 44.5), (-25.65, 2.1, 44.45), (-25.7, 0.6, 44.5), (-25.75, 1.0, 44.5),
    (-25.85, 0.3, 44.6), (-25.9, 1.4, 44.55), (-26.0, 0.6, 44.6), (-26.05, 2.0, 44.6), (-26.1, 0.2, 44.65),
    (-26.2, 0.9, 44.65), (-26.3, 0.4, 44.7), (-26.4, 1.7, 44.7), (-26.5, 0.25, 44.75), (-26.6, 0.6, 44.8),
    (-24.4, 0.55, 44.0), (-24.55, 0.35, 44.1), (-24.65, 1.9, 44.0), (-24.85, 0.45, 44.2), (-24.95, 1.3, 44.3),
    (-25.05, 0.6, 44.25), (-25.2, 1.1, 44.3), (-25.3, 1.6, 44.35), (-25.4, 0.9, 44.4), (-25.5, 0.3, 44.45),
    (-25.6, 1.3, 44.5), (-24.6, 2.7, 44.0), (-24.9, 2.2, 44.3), (-25.15, 3.1, 44.25), (-24.4, 4.6, 44.0),
    (-24.7, 3.6, 44.0), (-23.9, 1.0, 44.0), (-24.1, 1.5, 44.05), (-23.8, 3.3, 43.9), (-24.2, 2.7, 44.0),
    (-24.0, 5.2, 43.95), (-24.3, 5.6, 43.9),
]

bright_upper = [
    (-24.48, 9.73, 44.4), (-24.55, 9.73, 44.3), (-24.9, 9.98, 44.2), (-25.44, 9.58, 44.5), (-25.2, 9.63, 44.4),
    (-24.98, 9.57, 44.3), (-26.0, 9.53, 44.3), (-26.37, 9.58, 44.9), (-26.6, 10.03, 44.5), (-25.1, 10.46, 44.3),
    (-25.35, 10.75, 44.4), (-25.65, 10.8, 44.4), (-25.4, 11.0, 44.6), (-24.75, 10.96, 44.6), (-25.07, 11.29, 44.1),
    (-25.5, 11.43, 44.3), (-25.7, 11.3, 44.4), (-25.95, 11.3, 44.4), (-24.88, 10.17, 43.6), (-23.8, 10.4, 44.0),
    (-24.0, 10.54, 43.6), (-24.1, 10.6, 43.6), (-24.3, 10.65, 43.8), (-24.4, 10.5, 43.6), (-23.9, 11.78, 43.4),
    (-24.03, 11.6, 43.6), (-24.2, 12.0, 43.4), (-23.8, 12.6, 43.6), (-24.88, 12.24, 43.4), (-24.9, 12.13, 43.6),
    (-25.7, 12.3, 44.4), (-25.9, 12.13, 44.4), (-24.1, 13.0, 43.7), (-24.4, 12.96, 44.0), (-24.4, 12.8, 44.6),
    (-25.3, 12.8, 44.5), (-25.26, 12.63, 44.4), (-25.4, 12.56, 44.4), (-23.9, 13.8, 44.1), (-24.48, 13.8, 44.2),
    (-23.82, 13.56, 43.9), (-24.0, 13.56, 43.8), (-24.2, 13.4, 43.9), (-24.9, 13.4, 44.4), (-25.36, 13.3, 44.3),
    (-25.55, 13.5, 44.2), (-25.8, 13.8, 44.3), (-25.9, 13.75, 44.3), (-26.1, 13.2, 44.3), (-26.27, 13.3, 44.6),
    (-23.85, 13.85, 43.7), (-25.06, 15.0, 44.2), (-25.8, 14.6, 44.3), (-24.94, 14.36, 44.2), (-26.14, 16.2, 44.3),
    (-26.08, 15.9, 44.4), (-26.37, 15.7, 44.4), (-26.15, 15.2, 44.3), (-26.9, 15.9, 45.0), (-27.54, 17.55, 45.2),
    (-28.38, 17.83, 45.4), (-27.06, 14.1, 45.2), (-27.45, 13.9, 45.2), (-27.82, 13.45, 45.3), (-26.74, 11.8, 45.0),
    (-27.3, 10.65, 44.9), (-27.5, 10.35, 45.1), (-28.27, 9.8, 45.3),
    (-25.47, 9.33, 44.1), (-25.25, 9.22, 44.3), (-25.03, 9.22, 44.2), (-24.46, 9.28, 43.9), (-24.19, 9.28, 43.8),
    (-23.9, 9.22, 43.8), (-23.78, 9.24, 43.5), (-24.3, 8.92, 43.7), (-24.46, 8.9, 43.7), (-24.75, 8.65, 43.6),
    (-25.17, 8.72, 44.2), (-25.44, 9.03, 44.0), (-25.37, 8.52, 44.1), (-25.65, 8.38, 44.3), (-25.7, 8.11, 44.5),
    (-26.26, 8.26, 44.5), (-26.4, 8.31, 44.4), (-25.0, 8.26, 44.0), (-24.8, 8.28, 43.6), (-24.42, 8.2, 43.7),
    (-24.55, 8.04, 44.4), (-24.24, 7.95, 44.1), (-23.91, 8.11, 43.6), (-24.83, 7.77, 44.0), (-25.0, 7.61, 44.0),
    (-25.2, 7.42, 44.3), (-25.58, 7.55, 44.3), (-25.6, 7.85, 44.3), (-25.68, 7.21, 44.3), (-26.8, 7.45, 44.6),
    (-24.18, 7.61, 43.8), (-23.92, 7.5, 43.5), (-24.42, 6.86, 43.6), (-24.56, 6.93, 43.6), (-24.67, 6.64, 43.6),
    (-24.2, 6.53, 43.8), (-24.3, 6.34, 43.8), (-23.78, 6.53, 43.6), (-25.25, 6.21, 44.4), (-25.69, 6.21, 44.3),
    (-25.73, 5.83, 44.3), (-24.37, 5.92, 43.5), (-24.26, 5.69, 43.6), (-23.78, 5.67, 43.5), (-24.05, 5.46, 43.5),
    (-24.56, 5.4, 43.9), (-24.1, 4.58, 44.6),
]

bright_end = [
    (-28.0, 9.3, 45.2), (-28.1, 8.8, 45.2), (-27.95, 8.2, 45.2), (-28.4, 7.23, 45.4), (-28.0, 6.9, 45.3),
    (-27.46, 7.25, 45.0), (-27.53, 6.43, 45.0), (-27.6, 6.1, 45.2), (-28.5, 5.5, 45.5), (-28.78, 4.17, 45.5),
    (-28.82, 2.14, 45.5), (-27.9, 3.92, 45.0), (-27.85, 3.42, 45.2), (-27.24, 3.98, 45.2), (-27.13, 4.19, 44.8),
    (-27.46, 4.66, 45.0), (-27.95, 1.71, 45.3), (-27.25, 2.44, 45.2), (-27.04, 2.25, 44.9), (-26.85, 1.99, 44.7),
    (-27.04, 1.93, 44.9), (-27.8, 1.01, 45.1), (-27.83, 0.64, 45.3), (-27.26, 0.72, 44.9), (-28.48, 0.16, 45.4),
    (-28.09, 0.24, 45.4), (-27.9, 0.15, 45.4), (-27.7, 0.24, 45.3), (-27.52, 0.2, 45.2), (-27.36, 0.24, 45.0),
    (-27.2, 0.18, 45.0), (-27.02, 0.24, 44.9), (-26.83, 0.2, 44.7),
    (-26.22, 6.59, 45.2), (-26.47, 6.37, 44.8), (-26.92, 6.0, 45.0), (-26.77, 5.7, 45.1), (-26.31, 5.32, 44.7),
    (-26.45, 5.09, 44.6), (-26.72, 5.0, 44.6), (-26.88, 5.0, 44.7), (-26.63, 4.89, 44.6), (-25.81, 5.44, 44.5),
    (-26.24, 4.86, 44.4), (-26.19, 4.7, 44.4), (-26.27, 4.51, 44.4), (-26.7, 4.64, 44.4), (-25.86, 5.0, 44.3),
    (-25.78, 4.76, 44.5), (-25.44, 5.0, 44.3), (-25.37, 4.84, 44.3), (-25.35, 4.67, 44.4), (-25.88, 4.17, 44.4),
    (-25.57, 4.38, 44.3), (-26.3, 3.84, 44.4), (-26.44, 3.57, 44.9), (-26.72, 3.67, 44.6), (-26.76, 3.34, 44.7),
    (-26.8, 3.26, 44.6), (-26.63, 2.92, 45.1), (-26.13, 3.57, 44.5), (-25.94, 3.3, 44.4), (-25.86, 3.09, 44.5),
    (-25.49, 3.55, 44.7), (-25.28, 3.74, 44.4), (-25.67, 3.74, 44.4), (-25.6, 3.84, 44.3), (-25.39, 3.84, 44.3),
    (-25.12, 3.52, 44.3), (-25.24, 3.09, 44.3), (-25.51, 3.0, 44.3), (-25.82, 2.66, 44.5), (-25.92, 2.42, 44.5),
    (-25.92, 2.14, 44.4), (-26.19, 1.8, 44.6), (-26.35, 1.48, 44.6), (-26.06, 1.15, 44.7), (-25.55, 1.39, 44.8),
    (-26.56, 1.1, 44.7), (-26.72, 0.85, 44.7), (-26.96, 1.04, 44.9), (-26.77, 0.67, 44.7), (-26.24, 0.78, 44.6),
    (-25.92, 0.51, 44.5), (-26.45, 0.45, 44.6), (-26.16, 0.24, 44.5), (-25.73, 0.24, 44.4), (-25.44, 0.29, 44.5),
    (-25.17, 0.4, 44.6),
]

x_ticks = [-10, -13, -16, -19, -22, -25, -28]
y_ticks = [0.0, 2.5, 5.0, 7.5, 10.0, 12.5, 15.0, 17.5]
cbar_ticks = [41, 42, 43, 44, 45]

pts = np.array(faint_end + faint_fill + mid_faint + mid_faint_fill + mid + mid_fill + mid_bright
               + bright_fill + extra_fill + bright_low + bright_upper + bright_end)
mag, a_uv, log_lx = pts[:, 0], pts[:, 1], pts[:, 2]

plt.rcParams['font.family'] = ['DejaVu Serif']

fig = plt.figure(figsize=(8.3, 7.1), dpi=100)
ax = fig.add_axes([0.157, 0.124, 0.753, 0.852])

sc = ax.scatter(mag, a_uv, c=log_lx, cmap='inferno_r', vmin=40.5, vmax=45.5,
                s=44, linewidths=0)

ax.set_xlim(-9, -29)
ax.set_ylim(-0.74, 18.8)
ax.set_xticks(x_ticks)
ax.set_yticks(y_ticks)
ax.yaxis.set_major_formatter(FormatStrFormatter('%.1f'))
ax.tick_params(labelsize=18, length=5, width=1.5)
for sp in ax.spines.values():
    sp.set_linewidth(2.5)

ax.set_xlabel('Rest-frame UV 1450 magnitude (without dust)', fontsize=23, labelpad=2)
ax.set_ylabel(r'$A_{\rm UV1450}$', fontsize=26, family='DejaVu Sans')

# colorbar inset
cax = fig.add_axes([0.229, 0.773, 0.283, 0.030])
cb = fig.colorbar(sc, cax=cax, orientation='horizontal', ticks=cbar_ticks)
cb.outline.set_linewidth(2)
cax.tick_params(labelsize=15.5, length=4, width=1)
for lab in cax.get_xticklabels():
    lab.set_family('DejaVu Sans')
cax.set_title(r'log $L_X$ / erg s$^{-1}$', fontsize=15.5, pad=14, family='DejaVu Sans')

fig.savefig('out.png', dpi=100)
